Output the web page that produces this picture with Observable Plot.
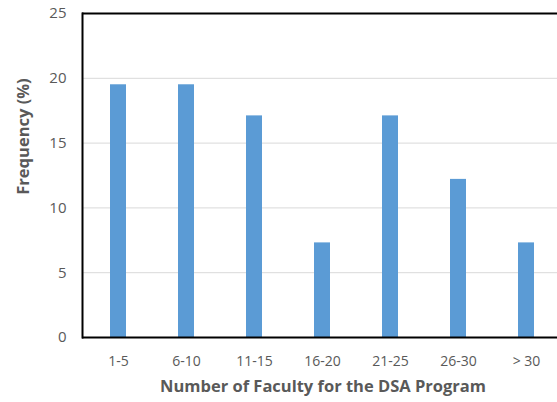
<!DOCTYPE html>
<html><head><meta charset="utf-8">
<script src="https://cdn.jsdelivr.net/npm/d3@7"></script>
<script src="https://cdn.jsdelivr.net/npm/@observablehq/plot@0.6"></script>
<style>body{margin:0;background:#fff;} svg{display:block;}</style>
</head><body><div id="chart"></div>
<script>
const categories = ["1-5", "6-10", "11-15", "16-20", "21-25", "26-30", "> 30"];
const frequency = [19.5, 19.5, 17.1, 7.3, 17.1, 12.2, 7.3];
const yTicks = [0, 5, 10, 15, 20, 25];
const xTitle = "Number of Faculty for the DSA Program";
const yTitle = "Frequency (%)";
const data = categories.map((c, i) => ({category: c, value: frequency[i]}));
const font = "'Open Sans', sans-serif";
const chart = Plot.plot({
  width: 557, height: 402,
  marginLeft: 82, marginRight: 0, marginTop: 13, marginBottom: 65,
  style: {fontFamily: font, fontSize: "14px", color: "#595959", background: "#fff"},
  x: {domain: categories, range: [82, 561], paddingInner: 0.765, paddingOuter: 0.383, label: null},
  y: {domain: [0, 25], ticks: yTicks, label: null},
  marks: [
    Plot.gridY(yTicks.filter(d => d > 0 && d < 25), {stroke: "#d9d9d9", strokeOpacity: 1, strokeWidth: 1}),
    Plot.barY(data, {x: "category", y: "value", fill: "#5b9bd5"}),
    Plot.ruleY([0], {stroke: "#000", strokeWidth: 2}),
    Plot.ruleY([25], {stroke: "#000", strokeWidth: 2}),
    Plot.frame({anchor: "left", stroke: "#000", strokeWidth: 2}),
    Plot.axisY(yTicks, {tickSize: 0, tickPadding: 16, fill: "#595959", fontSize: 15, label: null}),
    Plot.axisX({tickSize: 0, tickPadding: 19, fill: "#595959", fontSize: 14, label: null}),
    Plot.text([yTitle], {text: d => d, frameAnchor: "left", textAnchor: "middle", dx: -59, dy: -39, rotate: -90, fontWeight: "bold", fontSize: 16.5, fill: "#595959"}),
    Plot.text([xTitle], {text: d => d, frameAnchor: "bottom", dx: 3, dy: 54, fontWeight: "bold", fontSize: 16.5, fill: "#595959"})
  ]
});
document.getElementById("chart").appendChild(chart);
</script>
</body></html>
